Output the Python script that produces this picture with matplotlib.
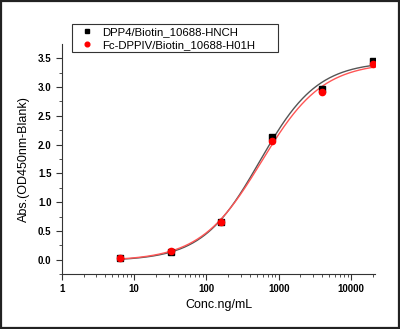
import numpy as np
import matplotlib
matplotlib.use("Agg")
import matplotlib.pyplot as plt
from matplotlib.patches import Rectangle
from matplotlib.ticker import FixedLocator, LogLocator, NullFormatter

plt.rcParams['font.family'] = ['Liberation Sans', 'DejaVu Sans']

conc = [6.4, 32, 160, 800, 4000, 20000]
dpp4 = [0.03, 0.13, 0.65, 2.14, 2.97, 3.45]
fc_dppiv = [0.03, 0.15, 0.66, 2.06, 2.92, 3.40]
labels = ["DPP4/Biotin_10688-HNCH", "Fc-DPPIV/Biotin_10688-H01H"]
x_ticks = [1, 10, 100, 1000, 10000]
x_ticklabels = ["1", "10", "100", "1000", "10000"]
y_ticks = [0.0, 0.5, 1.0, 1.5, 2.0, 2.5, 3.0, 3.5]


def four_pl(x, p):
    a, d, c, b = p
    return d + (a - d) / (1.0 + (x / c) ** b)


def fit_4pl(x, y, p0, iters=200):
    """Levenberg-Marquardt fit of a four-parameter logistic curve."""
    x = np.asarray(x, float)
    y = np.asarray(y, float)
    p = np.array(p0, float)
    lam = 1e-2
    for _ in range(iters):
        r = y - four_pl(x, p)
        J = np.empty((len(x), 4))
        for k in range(4):
            dp = np.zeros(4)
            dp[k] = 1e-6 * max(abs(p[k]), 1.0)
            J[:, k] = (four_pl(x, p + dp) - four_pl(x, p)) / dp[k]
        A = J.T @ J
        g = J.T @ r
        step = np.linalg.solve(A + lam * np.diag(np.diag(A)), g)
        p_new = p + step
        if p_new[2] > 0 and np.sum((y - four_pl(x, p_new)) ** 2) < np.sum(r ** 2):
            p = p_new
            lam *= 0.5
        else:
            lam *= 4
    return p


fig = plt.figure(figsize=(4.0, 3.29), dpi=100)
ax = fig.add_axes([62 / 400, 1 - 274 / 329, 313 / 400, 230 / 329])

xs = np.logspace(np.log10(conc[0]), np.log10(conc[-1]), 300)
for y, lc in [(dpp4, '#555555'), (fc_dppiv, '#ff5555')]:
    p = fit_4pl(conc, y, [0.0, 3.5, 700.0, 1.1])
    ax.plot(xs, four_pl(xs, p), color=lc, lw=1.0, zorder=2)

ax.plot(conc, dpp4, 's', color='black', ms=4, label=labels[0], zorder=3)
ax.plot(conc, fc_dppiv, 'o', color='red', ms=4.5, label=labels[1], zorder=4)

ax.set_xscale('log')
ax.set_xlim(1, 21500)
ax.set_ylim(-0.25, 3.75)
ax.xaxis.set_major_locator(FixedLocator(x_ticks))
ax.set_xticklabels(x_ticklabels)
ax.xaxis.set_minor_locator(LogLocator(base=10, subs=np.arange(2, 10)))
ax.xaxis.set_minor_formatter(NullFormatter())
ax.set_yticks(y_ticks)
ax.set_yticklabels([f"{v:.1f}" for v in y_ticks])
ax.yaxis.set_minor_locator(FixedLocator(np.arange(-0.25, 3.75, 0.25)))

for s in ['top', 'right']:
    ax.spines[s].set_visible(False)
for s in ['left', 'bottom']:
    ax.spines[s].set_linewidth(0.8)
    ax.spines[s].set_color('#333333')

ax.tick_params(axis='both', which='major', direction='out', length=4, width=0.8,
               labelsize=7, colors='#333333', labelcolor='black')
ax.tick_params(axis='both', which='minor', direction='out', length=2, width=0.6,
               colors='#333333')
for t in ax.get_xticklabels() + ax.get_yticklabels():
    t.set_fontweight('bold')

ax.set_xlabel("Conc.ng/mL", fontsize=9, labelpad=3)
ax.set_ylabel("Abs.(OD450nm-Blank)", fontsize=9, labelpad=6)

# legend entries without a frame; the box is drawn separately
leg = ax.legend(loc='upper left', bbox_to_anchor=(78 / 400, 1 - 25 / 329),
                bbox_transform=fig.transFigure, fontsize=8.2, frameon=False,
                borderpad=0.2, handletextpad=0.7, handlelength=1.2,
                labelspacing=0.25, borderaxespad=0, markerscale=0.75)

fig.patches.append(Rectangle((72 / 400, 1 - 52 / 329), 206 / 400, 28 / 329,
                             transform=fig.transFigure, fill=False,
                             edgecolor='#333333', lw=0.8, zorder=5))

fig.patches.append(Rectangle((0.002, 0.002), 0.995, 0.994, transform=fig.transFigure,
                             fill=False, edgecolor='#222222', lw=1.6))

fig.savefig("out.png", dpi=100)
